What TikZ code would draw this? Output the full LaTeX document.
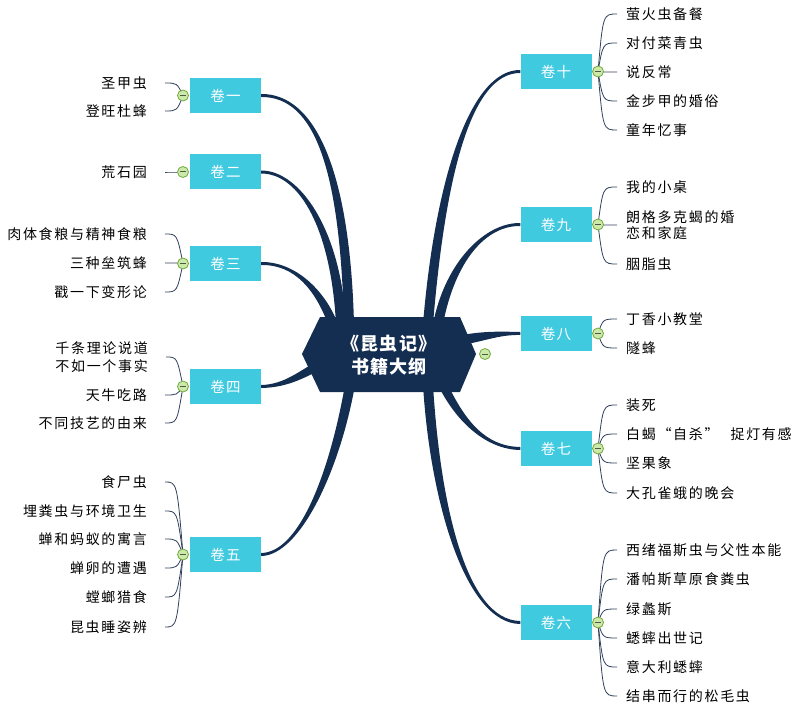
\documentclass[tikz,border=0pt]{standalone}
\usepackage{fontspec}
\setmainfont{Noto Sans CJK SC}
\newfontfamily\leaffont[LetterSpace=12]{Noto Sans CJK SC}
\newfontfamily\boxfont[LetterSpace=8]{Noto Sans CJK SC}
\newfontfamily\titlefont[LetterSpace=6]{Noto Sans CJK SC}
\usetikzlibrary{calc,backgrounds}
\definecolor{navy}{RGB}{20,46,82}
\definecolor{boxcyan}{RGB}{64,202,224}
\definecolor{leafcol}{RGB}{50,64,92}
\definecolor{togline}{RGB}{110,172,58}
\definecolor{togfill}{RGB}{206,232,172}
\definecolor{togminus}{RGB}{72,92,62}
\tikzset{
  volbox/.style={fill=boxcyan, minimum width=71, minimum height=35, inner sep=0,
    text=white, font=\boxfont\fontsize{14.5}{17}\selectfont},
  lleafnode/.style={anchor=east, inner sep=0, text height=11.8, text depth=1.6,
    font=\leaffont\fontsize{14}{17}\selectfont},
  rleafnode/.style={anchor=west, inner sep=0, text height=11.8, text depth=1.6,
    font=\leaffont\fontsize{14}{17}\selectfont},
  lleafmulti/.style={anchor=east, inner sep=0, align=right,
    font=\leaffont\fontsize{14}{17.5}\selectfont},
  rleafmulti/.style={anchor=west, inner sep=0, align=left,
    font=\leaffont\fontsize{14}{16.5}\selectfont},
  tog/.style={circle, draw=togline, fill=togfill, line width=0.8, minimum size=11, inner sep=0,
    path picture={\draw[line width=1, togminus]
      ([xshift=-3]path picture bounding box.center) -- ([xshift=3]path picture bounding box.center);}},
  leafline/.style={draw=leafcol, line width=0.8},
  branchfill/.style={fill=navy},
}
% tapered branch: #1 box anchor, #2 half offset at box, #3 c1, #4 c2, #5 hub coordinate, #6 half offset at hub
\newcommand\taper[6]{%
  \fill[branchfill] ($(#1)+#2$) .. controls ($#3+#2$) and ($#4+#6$) .. ($(#5)+#6$)
    -- ($(#5)-#6$) .. controls ($#4-#6$) and ($#3-#2$) .. ($(#1)-#2$) -- cycle;}
\newcommand\lleaf[2]{\draw[leafline] (#1.center) .. controls ($(#1.center |- #2.east)+(-6,0)$) .. ($(#2.east)+(18,0)$);}
\newcommand\rleaf[2]{\draw[leafline] (#1.center) .. controls ($(#1.center |- #2.west)+(5,0)$) .. ($(#2.west)+(-9,0)$);}
\begin{document}
\begin{tikzpicture}[x=1pt,y=-1pt]
\useasboundingbox (0,0) rectangle (800,714);
% central node
\fill[navy] (302,354) -- (320,317) -- (460,317) -- (476,354) -- (460,392) -- (320,392) -- cycle;
\node[text=white, align=center, inner sep=0, font=\titlefont\bfseries\fontsize{18}{23}\selectfont] (c) at (389,355) {《昆虫记》\\书籍大纲};
\node[tog] (tc) at (485,354) {};
% hub coordinates
\coordinate (p1) at (349,324);
\coordinate (p2) at (341,324);
\coordinate (p3) at (333,324);
\coordinate (p4) at (318,366);
\coordinate (p5) at (350,385);
\coordinate (p10) at (428,324);
\coordinate (p9) at (438,324);
\coordinate (p8) at (462,340);
\coordinate (p7) at (443,385);
\coordinate (p6) at (428,385);
% volume boxes
\node[volbox] (k1) at (225.5,95.5) {卷一};
\node[volbox] (k2) at (225.5,172) {卷二};
\node[volbox] (k3) at (225.5,263.5) {卷三};
\node[volbox] (k4) at (225.5,386.5) {卷四};
\node[volbox] (k5) at (225.5,554.5) {卷五};
\node[volbox] (k10) at (556,71.5) {卷十};
\node[volbox] (k9) at (556,224.5) {卷九};
\node[volbox] (k8) at (556,333.5) {卷八};
\node[volbox] (k7) at (556,448.5) {卷七};
\node[volbox] (k6) at (556,622.5) {卷六};
% toggles
\node[tog] (t1) at (183,95.5) {};
\node[tog] (t2) at (183,172) {};
\node[tog] (t3) at (183,263.5) {};
\node[tog] (t4) at (183,386.5) {};
\node[tog] (t5) at (183,554.5) {};
\node[tog] (t10) at (598,71.5) {};
\node[tog] (t9) at (598,224.5) {};
\node[tog] (t8) at (598,333.5) {};
\node[tog] (t7) at (598,448.5) {};
\node[tog] (t6) at (598,622.5) {};
% left leaves
\node[lleafnode] (a1) at (147,83) {圣甲虫};
\node[lleafnode] (a2) at (147,111) {登旺杜蜂};
\node[lleafnode] (b1) at (147,172) {荒石园};
\node[lleafnode] (c1) at (147,234) {肉体食粮与精神食粮};
\node[lleafnode] (c2) at (147,263) {三种垒筑蜂};
\node[lleafnode] (c3) at (147,292) {戳一下变形论};
\node[lleafmulti] (d1) at (148,357) {千条理论说道\\不如一个事实};
\node[lleafnode] (d2) at (147,395) {天牛吃路};
\node[lleafnode] (d3) at (147,423) {不同技艺的由来};
\node[lleafnode] (e1) at (147,482) {食尸虫};
\node[lleafnode] (e2) at (147,511) {埋粪虫与环境卫生};
\node[lleafnode] (e3) at (147,539) {蝉和蚂蚁的寓言};
\node[lleafnode] (e4) at (147,568) {蝉卵的遭遇};
\node[lleafnode] (e5) at (147,597) {螳螂猎食};
\node[lleafnode] (e6) at (147,627) {昆虫睡姿辨};
% right leaves
\node[rleafnode] (j1) at (626,14) {萤火虫备餐};
\node[rleafnode] (j2) at (626,43) {对付菜青虫};
\node[rleafnode] (j3) at (626,72) {说反常};
\node[rleafnode] (j4) at (626,101) {金步甲的婚俗};
\node[rleafnode] (j5) at (626,130) {童年忆事};
\node[rleafnode] (i1) at (626,187) {我的小桌};
\node[rleafmulti] (i2) at (626,225) {朗格多克蝎的婚\\恋和家庭};
\node[rleafnode] (i3) at (626,264) {胭脂虫};
\node[rleafnode] (h1) at (626,319) {丁香小教堂};
\node[rleafnode] (h2) at (626,348) {隧蜂};
\node[rleafnode] (g1) at (626,405) {装死};
\node[rleafnode] (g2) at (626,434) {白蝎“自杀”\hspace{12pt}捉灯有感};
\node[rleafnode] (g3) at (626,463) {坚果象};
\node[rleafnode] (g4) at (626,493) {大孔雀蛾的晚会};
\node[rleafnode] (f1) at (626,550) {西绪福斯虫与父性本能};
\node[rleafnode] (f2) at (626,579) {潘帕斯草原食粪虫};
\node[rleafnode] (f3) at (626,609) {绿蠡斯};
\node[rleafnode] (f4) at (626,638) {蟋蟀出世记};
\node[rleafnode] (f5) at (626,667) {意大利蟋蟀};
\node[rleafnode] (f6) at (626,696) {结串而行的松毛虫};
\begin{scope}[on background layer]
  % main branches
  \taper{k1.east}{(0,-1.5)}{(315,95)}{(345,170)}{p1}{(5,0)}
  \taper{k2.east}{(0,-1.5)}{(300,172)}{(336,230)}{p2}{(5,0)}
  \taper{k3.east}{(0,-1.5)}{(295,263)}{(320,290)}{p3}{(5,0)}
  \taper{k4.east}{(0,-1.5)}{(285,386)}{(300,375)}{p4}{(0,-5)}
  \taper{k5.east}{(0,-1.5)}{(300,554)}{(335,470)}{p5}{(-5,0)}
  \taper{k10.west}{(0,-1.5)}{(470,71)}{(440,180)}{p10}{(-5,0)}
  \taper{k9.west}{(0,-1.5)}{(485,224)}{(450,262)}{p9}{(-5,0)}
  \taper{k8.west}{(0,-1.5)}{(500,333)}{(485,336)}{p8}{(0,-5)}
  \taper{k7.west}{(0,-1.5)}{(485,448)}{(460,420)}{p7}{(5,0)}
  \taper{k6.west}{(0,-1.5)}{(465,622)}{(435,500)}{p6}{(5,0)}
  % leaf connectors
  \lleaf{t1}{a1}\lleaf{t1}{a2}
  \lleaf{t2}{b1}
  \lleaf{t3}{c1}\lleaf{t3}{c2}\lleaf{t3}{c3}
  \lleaf{t4}{d1}\lleaf{t4}{d2}\lleaf{t4}{d3}
  \lleaf{t5}{e1}\lleaf{t5}{e2}\lleaf{t5}{e3}\lleaf{t5}{e4}\lleaf{t5}{e5}\lleaf{t5}{e6}
  \rleaf{t10}{j1}\rleaf{t10}{j2}\rleaf{t10}{j3}\rleaf{t10}{j4}\rleaf{t10}{j5}
  \rleaf{t9}{i1}\rleaf{t9}{i2}\rleaf{t9}{i3}
  \rleaf{t8}{h1}\rleaf{t8}{h2}
  \rleaf{t7}{g1}\rleaf{t7}{g2}\rleaf{t7}{g3}\rleaf{t7}{g4}
  \rleaf{t6}{f1}\rleaf{t6}{f2}\rleaf{t6}{f3}\rleaf{t6}{f4}\rleaf{t6}{f5}\rleaf{t6}{f6}
\end{scope}
\end{tikzpicture}
\end{document}
